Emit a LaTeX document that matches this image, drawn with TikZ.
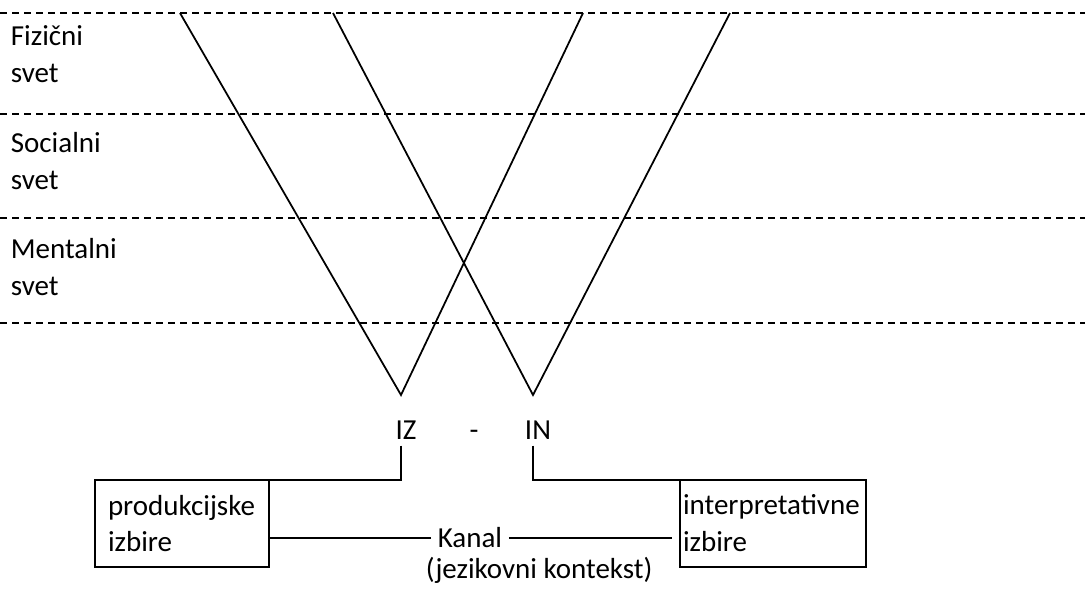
\documentclass[tikz,border=0pt]{standalone}
\usepackage{fontspec}
\setmainfont{Carlito}
\begin{document}
\begin{tikzpicture}[x=0.2mm,y=-0.2mm,line width=1pt,
    every node/.style={font=\fontsize{16.5}{21}\selectfont},
    layer/.style={dash pattern=on 0.14cm off 0.1cm},
    worldlabel/.style={anchor=base west, align=left, inner sep=0pt},
    choicebox/.style={draw, align=left, anchor=north west, outer sep=0pt, minimum height=1.74cm}]
    \useasboundingbox (0,0) rectangle (1085,588);

    % the three worlds
    \draw[layer] (0,13) -- (1085,13);
    \draw[layer] (0,114) -- (1085,114);
    \draw[layer] (0,218) -- (1085,218);
    \draw[layer] (0,323) -- (1085,323);

    % base is the baseline of the last line
    \node[worldlabel] (fiz) at (10,82) {Fizični\\svet};
    \node[worldlabel] (soc) at (10,189) {Socialni\\svet};
    \node[worldlabel] (men) at (10,295) {Mentalni\\svet};

    % the two V's
    \coordinate (izleft) at (180,13);
    \coordinate (izright) at (583,13);
    \coordinate (izapex) at (401,395);
    \coordinate (inleft) at (333,13);
    \coordinate (inright) at (730,13);
    \coordinate (inapex) at (533,395);

    \draw (izleft) -- (izapex) -- (izright);
    \draw (inleft) -- (inapex) -- (inright);

    \node[anchor=base] (iz) at (406,439) {IZ};
    \node[anchor=base] (sep) at (474,439) {-};
    \node[anchor=base] (in) at (538,439) {IN};

    % choices and the channel
    \node[choicebox, inner xsep=0.26cm, text width=2.96cm] (prod) at (95,480) {produkcijske\\izbire};
    \node[choicebox, inner xsep=0.06cm, text width=3.6cm] (interp) at (680,480) {interpretativne\\izbire};

    \draw (izapex |- iz.south) |- (prod.north west);
    \draw (inapex |- in.south) |- (interp.north east);

    \node (kanal) at (470,538) {Kanal};
    \node[anchor=base west, inner sep=0pt] (kontekst) at (425,578) {(jezikovni kontekst)};

    \draw (kanal.west) -- (kanal.west -| prod.east);
    \draw[shorten >=0.16cm] (kanal.east) -- (kanal.east -| interp.west);
\end{tikzpicture}
\end{document}
